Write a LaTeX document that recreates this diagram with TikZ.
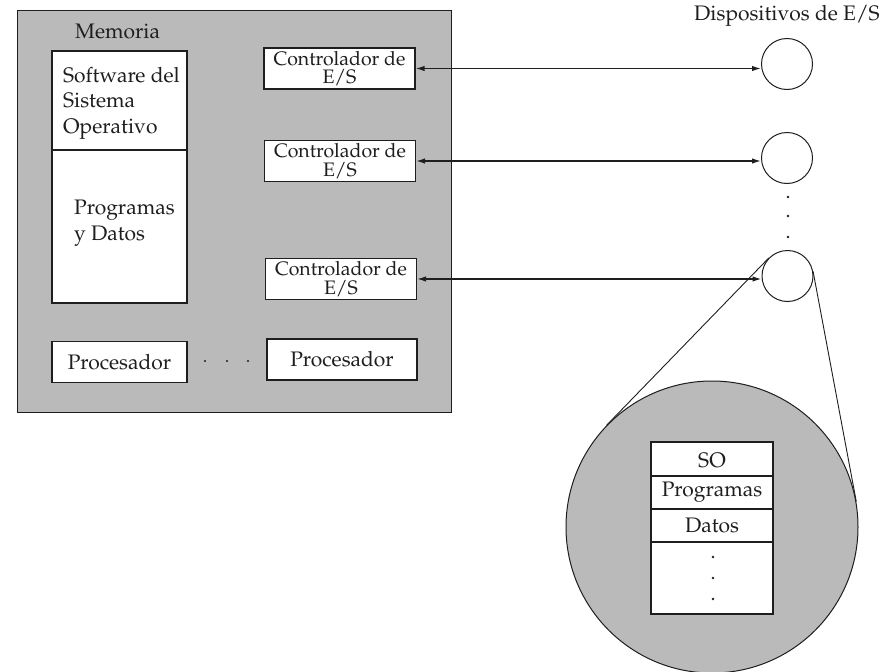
\documentclass[tikz,border=0pt]{standalone}
\usepackage[T1]{fontenc}
\usepackage{mathpazo}
\usetikzlibrary{arrows.meta,calc}
\definecolor{panel}{RGB}{186,186,186}
\definecolor{ink}{RGB}{30,30,30}
\begin{document}
\begin{tikzpicture}[x=1pt,y=-1pt,
  every node/.style={font=\fontsize{21}{23}\selectfont, text=ink},
  box/.style={draw=ink, line width=1.2pt, fill=white, inner sep=0pt},
  ctl/.style={box, minimum width=151pt, minimum height=41pt, align=center,
    font=\fontsize{19.5}{18.5}\selectfont},
  cpu/.style={box, minimum height=41pt},
  dev/.style={circle, draw=ink, line width=1pt, minimum size=51pt, inner sep=0pt},
  link/.style={draw=ink, line width=1.4pt,
    {Latex[length=9pt,width=5.5pt]}-{Latex[length=9pt,width=5.5pt]}},
  dot/.style={circle, fill=ink, inner sep=0pt, minimum size=2.6pt},
  lbl/.style={inner sep=0pt},
]
\useasboundingbox (0,0) rectangle (887,672);
\fill[white] (0,0) rectangle (887,672);

% host computer
\node[draw=ink, line width=1pt, fill=panel, minimum width=434pt, minimum height=402pt,
  inner sep=0pt] (host) at (234,211) {};
\node[lbl, anchor=west] (memlbl) at (75,31) {Memoria};

% memory contents
\node[box, minimum width=135pt, minimum height=252pt] (mem) at (119.5,177) {};
\draw[draw=ink, line width=1.2pt] (mem.west |- 0,150) coordinate (memsplitL)
  -- (mem.east |- 0,150) coordinate (memsplitR);
\node[lbl, anchor=west, align=left, font=\fontsize{21}{25.5}\selectfont] (os)
  at (63,103) {Software del\\Sistema\\Operativo};
\node[lbl, anchor=west, align=left, font=\fontsize{21}{26}\selectfont] (prog)
  at (74,223) {Programas\\y Datos};

% I/O controllers
\node[ctl] (c1) at (339.5,68.5) {Controlador de\\E/S};
\node[ctl] (c2) at (340,161) {Controlador de\\E/S};
\node[ctl] (c3) at (341,279) {Controlador de\\E/S};

% processors
\node[cpu, minimum width=135pt] (p1) at (119.5,362) {Procesador};
\node[cpu, minimum width=150pt] (p2) at (342,359.5) {Procesador};
\node[dot, minimum size=2.2pt] (pd1) at (205,361) {};
\node[dot, minimum size=2.2pt] (pd2) at (227,361) {};
\node[dot, minimum size=2.2pt] (pd3) at (248,361) {};

% I/O devices
\node[lbl] (devlbl) at (787,16) {Dispositivos de E/S};
\node[dev] (d1) at (787,64) {};
\node[dev] (d2) at (787,158) {};
\node[dev] (d3) at (787.5,276) {};
\node[dot] (dd1) at (788,197) {};
\node[dot] (dd2) at (788,216) {};
\node[dot] (dd3) at (788,237) {};

\draw[link] (c1.east) -- (c1.east -| d1.west);
\draw[link] (c2.east) -- (c2.east -| d2.west);
\draw[link] (c3.east) -- (c3.east -| d3.west);

% magnified view of one device
\node[circle, draw=ink, line width=1pt, fill=panel, minimum size=292pt, inner sep=0pt]
  (zoom) at (712,527) {};
\draw[draw=ink, line width=0.9pt] (d3.136) -- (zoom.136);
\draw[draw=ink, line width=0.9pt] (d3.10.5) -- (zoom.10.5);

\node[box, minimum width=122pt, minimum height=172pt] (stack) at (712,528) {};
\draw[draw=ink, line width=1.2pt] (stack.west |- 0,476) -- (stack.east |- 0,476);
\draw[draw=ink, line width=1.2pt] (stack.west |- 0,509) -- (stack.east |- 0,509);
\draw[draw=ink, line width=1.2pt] (stack.west |- 0,542) -- (stack.east |- 0,542);
\node[lbl] (so) at (712,460) {SO};
\node[lbl] (sprog) at (712,492.5) {Programas};
\node[lbl] (sdat) at (712,525.5) {Datos};
\node[dot] (sd1) at (713,557) {};
\node[dot] (sd2) at (713,578) {};
\node[dot] (sd3) at (713,599) {};
\end{tikzpicture}
\end{document}
